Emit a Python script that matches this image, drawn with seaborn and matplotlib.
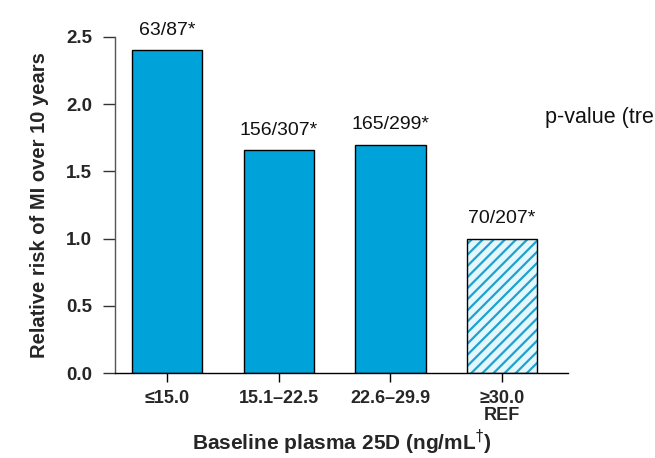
import matplotlib
matplotlib.use("Agg")
import matplotlib.pyplot as plt
import seaborn as sns
import pandas as pd
from matplotlib.patches import Rectangle

categories = ["≤15.0", "15.1–22.5", "22.6–29.9", "≥30.0\nREF"]
relative_risk = [2.40, 1.66, 1.70, 1.00]
bar_labels = ["63/87*", "156/307*", "165/299*", "70/207*"]
y_ticks = [0.0, 0.5, 1.0, 1.5, 2.0, 2.5]

sns.set_theme(style="white")
plt.rcParams['font.family'] = ['Liberation Sans', 'DejaVu Sans']
plt.rcParams['hatch.linewidth'] = 1.6

df = pd.DataFrame({"cat": categories, "rr": relative_risk})

fig = plt.figure(figsize=(6.55, 4.58), dpi=100)
ax = fig.add_axes([115/655, 1-373/458, (568-115)/655, (373-37)/458])

blue = "#00A3D9"
sns.barplot(data=df, x="cat", y="rr", color=blue, saturation=1, width=0.63,
            edgecolor="black", linewidth=1.0, ax=ax)

# reference bar: hatched
ref = ax.patches[3]
ref.set_facecolor("#E4F7FD")
ref.set_edgecolor("#1FA2CF")
ref.set_hatch("///")
ref.set_linewidth(0)
ax.add_patch(Rectangle((ref.get_x(), ref.get_y()), ref.get_width(), ref.get_height(),
                       fill=False, edgecolor="black", linewidth=1.0, zorder=ref.get_zorder()+0.1))

ax.bar_label(ax.containers[0], labels=bar_labels, padding=8, fontsize=14, color="#111111")

ax.set_ylim(0, 2.5)
ax.set_xlim(-0.466, 3.59)
ax.set_yticks(y_ticks)
ax.set_yticklabels([f"{v:.1f}" for v in y_ticks], fontsize=13.5, fontweight="bold")
for lab in ax.get_xticklabels():
    lab.set_fontsize(13)
    lab.set_fontweight("bold")
    lab.set_linespacing(0.95)

ax.tick_params(axis="y", direction="out", length=8.5, width=1, color="#333333", pad=8, left=True)
ax.tick_params(axis="x", direction="out", length=6.5, width=1, color="black", pad=6, bottom=True)

for s in ["top", "right"]:
    ax.spines[s].set_visible(False)
ax.spines["left"].set_color("#555555")
ax.spines["left"].set_linewidth(1)
ax.spines["bottom"].set_color("black")
ax.spines["bottom"].set_linewidth(1)

ax.set_ylabel("Relative risk of MI over 10 years", fontsize=14.5, fontweight="bold", labelpad=12)
ax.set_xlabel("Baseline plasma 25D (ng/mL$^{\\dagger}$)", fontsize=15, fontweight="bold", labelpad=3)

fig.text(545/655, 1-118/458, "p-value (trend)", fontsize=15.5, va="center", ha="left", color="#111111")

fig.savefig("out.png", dpi=100)
